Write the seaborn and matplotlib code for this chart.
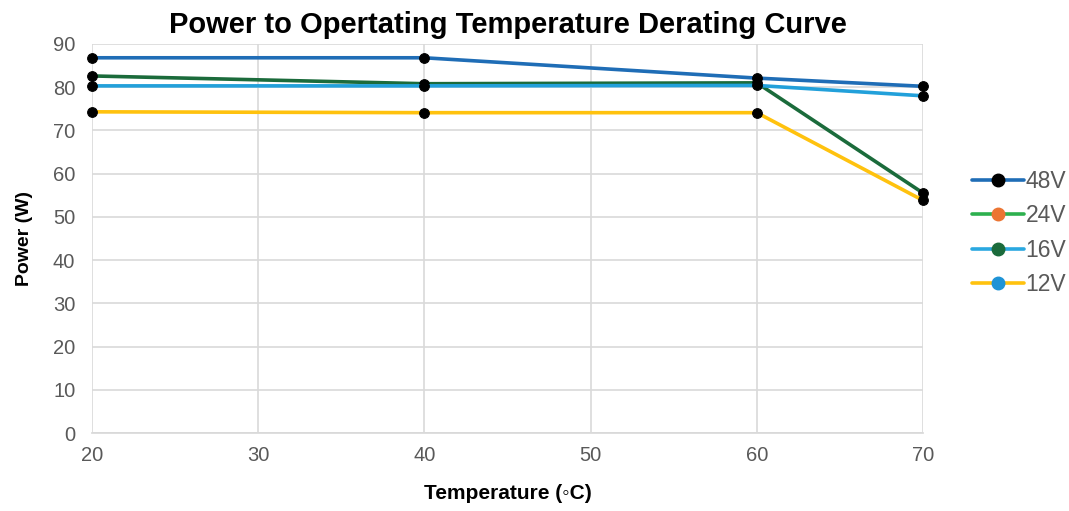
import matplotlib
matplotlib.use("Agg")
import matplotlib.pyplot as plt
import seaborn as sns
import pandas as pd
from matplotlib.lines import Line2D

temps = [20, 40, 60, 70]
p48 = [86.8, 86.8, 82.1, 80.2]
p16 = [82.6, 80.8, 81.0, 55.5]
p12 = [80.3, 80.3, 80.4, 78.0]
p24 = [74.3, 74.1, 74.1, 53.8]
series_names = ["48V", "16V", "12V", "24V"]
series_vals = [p48, p16, p12, p24]
line_colors = ["#1F6DB6", "#1B6B3B", "#22A0DA", "#FFC20E"]

legend_labels = ["48V", "24V", "16V", "12V"]
legend_line_colors = ["#1F6DB6", "#2DB04E", "#2AA8E0", "#FFC20E"]
legend_marker_colors = ["#000000", "#EC7533", "#1B6B3B", "#1E93D6"]

rows = []
for n, v in zip(series_names, series_vals):
    for t, p in zip(temps, v):
        rows.append({"T": t, "P": p, "S": n})
df = pd.DataFrame(rows)

sns.set_theme(style="whitegrid")
plt.rcParams['font.family'] = ['Liberation Sans', 'DejaVu Sans']

fig = plt.figure(figsize=(10.69, 5.11), dpi=100)
ax = fig.add_axes([0.086, 0.1526, 0.7775, 0.7614])

sns.lineplot(data=df, x="T", y="P", hue="S", hue_order=series_names,
             palette=dict(zip(series_names, line_colors)), ax=ax,
             marker="o", markersize=7, markerfacecolor="black", markeredgecolor="black",
             linewidth=2.6, legend=False)
for ln in ax.lines:
    ln.set_clip_on(False)

ax.set_xlim(20, 70)
ax.set_ylim(0, 90)
ax.set_xticks([20, 30, 40, 50, 60, 70])
ax.set_yticks(range(0, 91, 10))
ax.grid(True, color="#D9D9D9", linewidth=1.2)
for s in ["top", "right", "left"]:
    ax.spines[s].set_visible(False)
ax.spines["bottom"].set_visible(True)
ax.spines["bottom"].set_color("#D9D9D9")
ax.tick_params(axis="both", labelsize=14.5, colors="#595959", length=0)
ax.tick_params(axis="x", pad=9)
ax.tick_params(axis="y", pad=12)
for lab in ax.get_xticklabels() + ax.get_yticklabels():
    lab.set_color("#595959")

ax.set_xlabel("Temperature (◦C)", fontsize=15, fontweight="bold", labelpad=14,
              color="black")
ax.set_ylabel("Power (W)", fontsize=14, fontweight="bold", labelpad=14,
              color="black")
ax.set_title("Power to Opertating Temperature Derating Curve", fontsize=21,
             fontweight="bold", pad=8, color="black")

handles = [Line2D([0], [0], color=lc, lw=2.6, marker="o", markersize=9,
                  markerfacecolor=mc, markeredgecolor=mc)
           for lc, mc in zip(legend_line_colors, legend_marker_colors)]
leg = fig.legend(handles, legend_labels, loc="center left",
                 bbox_to_anchor=(0.909, 0.544), frameon=False, fontsize=16.5,
                 handlelength=2.3, handletextpad=0.05, labelspacing=0.5,
                 borderpad=0, borderaxespad=0, labelcolor="#595959")

fig.savefig("out.png", dpi=100)
